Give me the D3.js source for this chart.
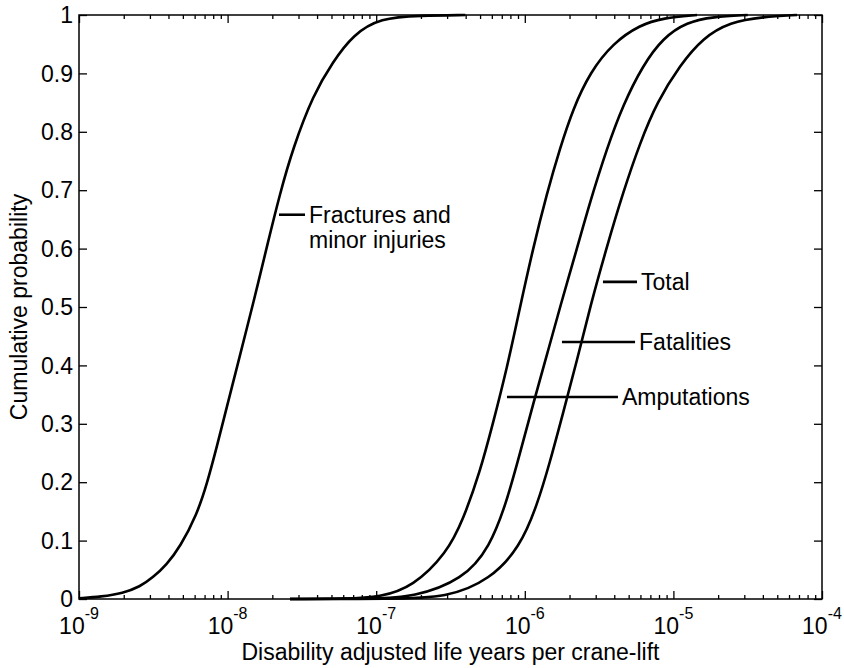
<!DOCTYPE html>
<html>
<head>
<meta charset="utf-8">
<script src="https://cdn.jsdelivr.net/npm/d3@7"></script>
<style>
  body { margin: 0; background: #fff; }
  svg { display: block; font-family: "Liberation Sans", Arial, sans-serif; }
</style>
</head>
<body>
<svg id="chart" width="844" height="668"></svg>
<script>
// values: log10(DALY per crane-lift) and cumulative probability
const fracLogX = [-9.0, -8.85, -8.704, -8.59, -8.502, -8.41, -8.32, -8.206, -8.139, -8.071, -8.004, -7.937, -7.869, -7.80, -7.735, -7.647, -7.56, -7.425, -7.291, -7.156, -6.974, -6.7, -6.4]
const fracP = [0.001, 0.004, 0.010, 0.021, 0.037, 0.059, 0.089, 0.145, 0.197, 0.262, 0.33, 0.397, 0.465, 0.535, 0.604, 0.695, 0.772, 0.863, 0.92, 0.966, 0.995, 0.999, 1.0]

const ampLogX = [-7.58, -7.2, -6.974, -6.752, -6.524, -6.416, -6.301, -6.214, -6.12, -6.032, -5.945, -5.851, -5.763, -5.676, -5.561, -5.406, -5.225, -5.07, -4.841]
const ampP = [0, 0.0005, 0.003, 0.021, 0.079, 0.135, 0.218, 0.301, 0.395, 0.5, 0.6, 0.695, 0.772, 0.839, 0.902, 0.952, 0.983, 0.995, 1.0]

const fatLogX = [-7.58, -7.0, -6.752, -6.416, -6.234, -6.12, -6.032, -5.945, -5.851, -5.763, -5.649, -5.561, -5.447, -5.339, -5.205, -5.07, -4.909, -4.734, -4.5]
const fatP = [0, 0.0005, 0.003, 0.033, 0.089, 0.168, 0.25, 0.333, 0.418, 0.5, 0.6, 0.68, 0.772, 0.846, 0.914, 0.961, 0.988, 0.997, 1.0]

const totLogX = [-7.58, -6.9, -6.524, -6.234, -6.032, -5.918, -5.83, -5.743, -5.649, -5.561, -5.447, -5.339, -5.225, -5.11, -4.956, -4.801, -4.619, -4.397, -4.168]
const totP = [0, 0.0003, 0.002, 0.033, 0.089, 0.16, 0.235, 0.318, 0.408, 0.5, 0.604, 0.696, 0.781, 0.851, 0.914, 0.961, 0.988, 0.997, 1.0]

// label callouts (line from x0 to x1 at y, in data units)
const labelText = [["Fractures and", "minor injuries"], ["Total"], ["Fatalities"], ["Amputations"]]
const labelX0 = [-7.654, -5.474, -5.75, -6.12]
const labelX1 = [-7.479, -5.245, -5.258, -5.373]
const labelY = [0.658, 0.543, 0.44, 0.346]

const xDecades = [-9, -8, -7, -6, -5, -4]
const yTicks = [0, 0.1, 0.2, 0.3, 0.4, 0.5, 0.6, 0.7, 0.8, 0.9, 1]

const margin = { top: 15, right: 22, bottom: 69, left: 79 }
const width = 844, height = 668
const innerW = width - margin.left - margin.right
const innerH = height - margin.top - margin.bottom
const fs = 23

const svg = d3.select("#chart")
const g = svg.append("g").attr("transform", `translate(${margin.left},${margin.top})`)

const x = d3.scaleLog().domain([1e-9, 1e-4]).range([0, innerW])
const y = d3.scaleLinear().domain([0, 1]).range([innerH, 0])

const majors = xDecades.map(e => Math.pow(10, e))
const minors = []
xDecades.slice(0, -1).forEach(e => {
  for (let k = 2; k <= 9; k++) minors.push(k * Math.pow(10, e))
})

const styleAxis = sel => {
  sel.select(".domain").remove()
  sel.selectAll(".tick line").attr("stroke", "#000").attr("stroke-width", 1.3)
  sel.selectAll(".tick text").remove()
}

// inward ticks, MATLAB style
g.append("g").attr("transform", `translate(0,${innerH})`)
  .call(d3.axisBottom(x).tickValues(majors).tickSize(-8)).call(styleAxis)
g.append("g").attr("transform", `translate(0,${innerH})`)
  .call(d3.axisBottom(x).tickValues(minors).tickSize(-4)).call(styleAxis)
g.append("g").call(d3.axisTop(x).tickValues(majors).tickSize(-8)).call(styleAxis)
g.append("g").call(d3.axisTop(x).tickValues(minors).tickSize(-4)).call(styleAxis)
g.append("g").call(d3.axisLeft(y).tickValues(yTicks).tickSize(-8)).call(styleAxis)
g.append("g").attr("transform", `translate(${innerW},0)`)
  .call(d3.axisRight(y).tickValues(yTicks).tickSize(-8)).call(styleAxis)

g.append("rect")
  .attr("width", innerW).attr("height", innerH)
  .attr("fill", "none").attr("stroke", "#000").attr("stroke-width", 1.5)

// tick labels
const xl = g.append("g").selectAll("text").data(xDecades).join("text")
  .attr("x", d => x(Math.pow(10, d)))
  .attr("y", innerH + 35)
  .attr("text-anchor", "middle")
  .attr("font-size", fs)
xl.append("tspan").text("10")
xl.append("tspan").attr("dy", -15).attr("font-size", 16).text(d => `${d}`)

g.append("g").selectAll("text").data(yTicks).join("text")
  .attr("x", -6)
  .attr("y", d => y(d))
  .attr("dy", "0.36em")
  .attr("text-anchor", "end")
  .attr("font-size", fs)
  .text(d => d3.format("")(d))

// axis titles
svg.append("text")
  .attr("x", margin.left + innerW / 2)
  .attr("y", 660)
  .attr("text-anchor", "middle")
  .attr("font-size", fs)
  .text("Disability adjusted life years per crane-lift")

svg.append("text")
  .attr("transform", `translate(27,${margin.top + innerH / 2}) rotate(-90)`)
  .attr("text-anchor", "middle")
  .attr("font-size", fs)
  .text("Cumulative probability")

// curves
const series = [
  { lx: fracLogX, p: fracP },
  { lx: ampLogX, p: ampP },
  { lx: fatLogX, p: fatP },
  { lx: totLogX, p: totP },
]
const line = d3.line()
  .x(d => x(Math.pow(10, d[0])))
  .y(d => y(d[1]))
  .curve(d3.curveBasis)

g.append("g").selectAll("path").data(series).join("path")
  .attr("d", s => line(s.lx.map((v, i) => [v, s.p[i]])))
  .attr("fill", "none")
  .attr("stroke", "#000")
  .attr("stroke-width", 2.6)
  .attr("stroke-linejoin", "round")

// callouts
const callouts = g.append("g").selectAll("g").data(labelText).join("g")
callouts.append("line")
  .attr("x1", (d, i) => x(Math.pow(10, labelX0[i])))
  .attr("x2", (d, i) => x(Math.pow(10, labelX1[i])))
  .attr("y1", (d, i) => y(labelY[i]))
  .attr("y2", (d, i) => y(labelY[i]))
  .attr("stroke", "#000")
  .attr("stroke-width", 2.6)
callouts.append("text")
  .attr("x", (d, i) => x(Math.pow(10, labelX1[i])) + 4)
  .attr("y", (d, i) => y(labelY[i]))
  .attr("font-size", fs)
  .selectAll("tspan").data(d => d).join("tspan")
  .attr("x", function () { return this.parentNode.getAttribute("x") })
  .attr("dy", (d, i) => i === 0 ? "0.36em" : 25)
  .text(d => d)
</script>
</body>
</html>
